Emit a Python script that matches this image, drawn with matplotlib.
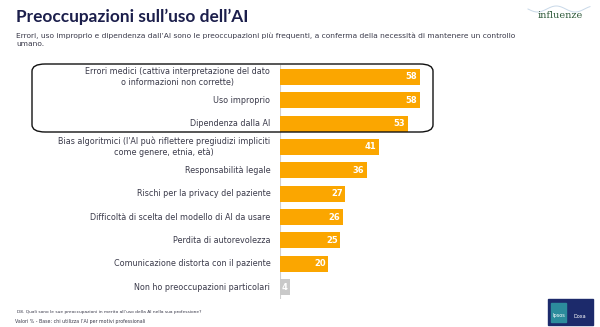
import matplotlib
matplotlib.use("Agg")
import matplotlib.pyplot as plt
from matplotlib.patches import FancyBboxPatch, Rectangle
import numpy as np

plt.rcParams['font.family'] = ['DejaVu Sans']

categories = [
    "Errori medici (cattiva interpretazione del dato\no informazioni non corrette)",
    "Uso improprio",
    "Dipendenza dalla AI",
    "Bias algoritmici (l'AI può riflettere pregiudizi impliciti\ncome genere, etnia, età)",
    "Responsabilità legale",
    "Rischi per la privacy del paziente",
    "Difficoltà di scelta del modello di AI da usare",
    "Perdita di autorevolezza",
    "Comunicazione distorta con il paziente",
    "Non ho preoccupazioni particolari",
]
values = [58, 58, 53, 41, 36, 27, 26, 25, 20, 4]

ORANGE = "#FBA600"
GREY = "#C9C9C9"
NAVY = "#1B1E4B"
TEXT = "#3A3A4A"

W, H = 600, 327
fig = plt.figure(figsize=(6, 3.27), dpi=100)

# bar area in pixels: zero at x=280, 2.41 px per unit, rows from y=65 to y=299
x0, ppu = 280, 2.41
top, bottom = 65.3, 298.7
ax = fig.add_axes([x0 / W, 1 - bottom / H, 62 * ppu / W, (bottom - top) / H])
ax.set_xlim(0, 62)
ax.set_ylim(len(values) - 0.5, -0.5)
ax.axis("off")

colors = [ORANGE] * (len(values) - 1) + [GREY]
y = np.arange(len(values))
ax.barh(y, values, height=0.68, color=colors, zorder=2)
ax.axvline(0, color="#D0D0D0", lw=0.8, zorder=1)

for yi, v, lab in zip(y, values, categories):
    ax.text(v - 1.0, yi, str(v), ha="right", va="center", color="white",
            fontsize=6.0, fontweight="bold", zorder=3)
    ax.annotate(lab, xy=(0, yi), xytext=(-7, 0), textcoords="offset points",
                ha="right", va="center", multialignment="center",
                fontsize=5.8, color=TEXT, linespacing=1.3)

# rounded highlight box around top 3
box = FancyBboxPatch((32 / W, 1 - 132 / H), (433 - 32) / W, (132 - 64) / H,
                     boxstyle="round,pad=0,rounding_size=0.022",
                     transform=fig.transFigure, fill=False, ec="#111111", lw=1.0)
fig.patches.append(box)

# title and subtitle
fig.text(16 / W, 1 - 17 / H, "Preoccupazioni sull\u2019uso dell\u2019AI", fontsize=12.4,
         fontweight="bold", color=NAVY, va="center", family="Lato")
fig.text(16 / W, 1 - 40 / H,
         "Errori, uso improprio e dipendenza dall\u2019AI sono le preoccupazioni più frequenti, a conferma della necessità di mantenere un controllo\numano.",
         fontsize=5.4, color=TEXT, va="center", linespacing=1.45)

# footnotes
fig.text(17 / W, 1 - 312 / H,
         "D8. Quali sono le sue preoccupazioni in merito all\u2019uso della AI nella sua professione?",
         fontsize=3.15, color=TEXT, va="center")
fig.text(15 / W, 1 - 322 / H, "Valori % - Base: chi utilizza l\u2019AI per motivi professionali",
         fontsize=3.4, color=TEXT, va="center")

# influenze logo
lx = np.linspace(528, 590, 80)
fig.lines.append(plt.Line2D(lx / W, 1 - (9 + 3 * np.sin((lx - 528) / 6)) / H,
                            transform=fig.transFigure, color="#C8D8E8", lw=0.7))
fig.text(560 / W, 1 - 15 / H, "influenze", fontsize=7, family="DejaVu Serif",
         color="#2E5A3A", ha="center", va="center")

# Ipsos Doxa logo
fig.patches.append(Rectangle((548 / W, 1 - 325 / H), 45 / W, 26 / H,
                             transform=fig.transFigure, color="#1C2A6B"))
fig.patches.append(Rectangle((551 / W, 1 - 322 / H), 15 / W, 19 / H,
                             transform=fig.transFigure, color="#2C8C9C"))
fig.text(558.5 / W, 1 - 316 / H, "Ipsos", fontsize=3.6, color="white", ha="center", va="center")
fig.text(580 / W, 1 - 316 / H, "Doxa", fontsize=3.6, color="white", ha="center", va="center")

fig.savefig("out.png", dpi=100)
